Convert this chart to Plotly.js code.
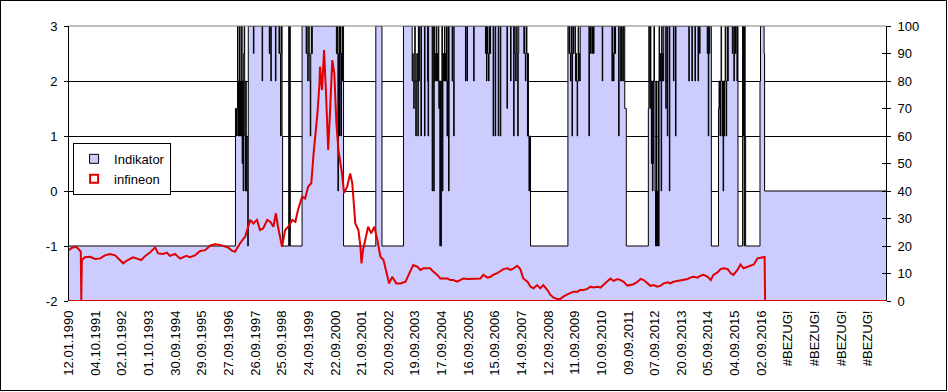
<!DOCTYPE html>
<html>
<head>
<meta charset="utf-8">
<script src="https://cdn.plot.ly/plotly-3.0.1.min.js"></script>
<style>
  html, body { margin: 0; padding: 0; background: #fff; }
  #wrap { position: absolute; left: 0; top: 0; width: 947px; height: 391px; border: 1px solid #000; box-sizing: border-box; background: #fff; }
  #chart { width: 945px; height: 389px; }
</style>
</head>
<body>
<div id="wrap"><div id="chart"></div></div>
<script>
// Category labels (every 52nd week)
const xLabels = ["12.01.1990","04.10.1991","02.10.1992","01.10.1993","30.09.1994","29.09.1995","27.09.1996","26.09.1997","25.09.1998","24.09.1999","22.09.2000","21.09.2001","20.09.2002","19.09.2003","17.09.2004","16.09.2005","15.09.2006","14.09.2007","12.09.2008","11.09.2009","10.09.2010","09.09.2011","07.09.2012","20.09.2013","05.09.2014","04.09.2015","02.09.2016","#BEZUG!","#BEZUG!","#BEZUG!","#BEZUG!"];
const labelStep = 52;
const nCategories = 1595;

// Indikator (left axis), step changes: week index -> value
const indX = [0,325,327,328,329,330,331,332,333,334,335,336,337,338,339,340,341,342,343,344,345,346,347,348,349,350,
360,361,377,378,391,392,393,394,395,403,404,410,411,412,413,414,415,416,417,429,430,431,432,455,
463,464,465,466,467,468,469,470,471,472,473,474,475,
522,523,524,525,526,527,528,529,530,531,532,533,534,536,599,611,653,
670,671,672,673,674,675,676,677,678,679,680,681,682,683,684,687,688,694,695,700,701,702,
709,710,712,713,714,715,716,717,718,719,720,721,722,723,724,725,726,727,728,
729,730,731,732,733,734,735,736,737,738,739,740,741,742,748,749,750,751,752,
774,775,777,778,790,791,813,814,815,816,817,818,819,820,821,822,823,
828,829,832,833,838,839,842,843,855,856,862,863,
868,869,870,871,872,873,874,875,876,877,878,
888,889,890,891,892,893,894,895,896,897,898,899,901,974,
976,977,978,979,980,981,982,983,984,985,986,
989,990,991,992,993,994,995,996,997,998,
1015,1016,1018,1019,1021,1022,1024,1025,1041,1042,
1060,1061,1062,1063,1064,1065,1066,1067,1073,1074,
1077,1078,1079,1080,1082,1083,1085,1088,
1131,1132,1133,1134,1135,1136,1137,1138,1139,1140,1141,1142,1143,
1144,1145,1146,1147,1148,1149,1150,1151,1152,1153,1154,1155,1156,1157,1158,1159,1160,1161,
1165,1166,1168,1169,1172,1173,1180,1181,1184,1185,
1210,1211,1216,1217,1222,1223,1228,1229,1231,1232,
1246,1247,1248,1249,1250,1251,1254,
1268,1269,1270,1271,1272,1273,1274,1275,1276,1277,1278,1279,1280,1281,1282,1283,1284,1285,1286,1287,
1295,1296,1298,1299,1301,1302,1304,1305,1306,
1315,1316,1317,1318,1319,1320,1321,
1349,1350,1357,1358,1595];
const indY = [-1,1.5,1,1.5,3,1,2,1,3,1,2,1,3,0.5,2,0,2.5,3,1,0,2,0,1,0,-1,3,
2.5,3,2,3,2.5,3,2.5,2,3,2,3,2.5,3,2.5,1,2.5,3,1,-1,3,-1,3,-1,3,
2.5,3,2.5,2,2.5,3,2.5,2,1,2.5,3,2.5,3,
2.5,3,2.5,0,2.5,3,1,2.5,3,1,2.5,2,3,-1,3,-1,3,
2,2.5,2,1.5,2,3,2,1,2,2.5,2,1,3,2,3,1,3,1,3,2,1,3,
0,3,0,3,2,2.5,2,3,2,2.5,2,3,1.5,2,-1,2,-1,2,3,
0,2,2.5,2,3,2,2.5,2,3,1,2,3,0,3,2,3,2,1,3,
2,3,2,3,2,3,2.5,3,2,2.5,3,2.5,2,2.5,3,2.5,3,
1,3,1,3,1,3,1,3,1.5,3,2,3,
1,2.5,3,2.5,2,2.5,3,2.5,1,2.5,3,
2.5,3,2.5,2,2.5,3,2.5,1,2.5,1,0,1,-1,3,
2.5,3,2.5,2,2.5,3,1,2.5,3,2.5,3,
2,2.5,2,1,2,3,2,2.5,2,3,
1,3,2.5,3,2.5,3,2.5,3,2,3,
2,3,2.5,2,2.5,3,2.5,3,1,3,
2,3,2,3,2,3,1.5,-1,
1.5,3,2,1.5,3,2,0.5,2,0,0.5,2,3,2,
0,-1,2,-1,0,-1,2,-1,3,2,2.5,2,0,3,2,2.5,2,3,
1.5,3,1,3,0,3,2,3,1,3,
2,3,2,3,2,3,2,3,2.5,3,
2.5,3,1,3,2.5,3,-1,
1.5,2,1.5,1,2,3,2,1,2,0,2,1,2,3,2,1,2,3,2,3,
2.5,3,2,3,2.5,3,2,3,-1,
3,1,3,-1,3,1,-1,
2,3,2.5,0,0];

// infineon (right axis): week index -> value
const infX = [0,6,14,21,23,24,25,31,41,51,61,70,80,90,100,106,113,125,133,141,149,158,168,174,184,191,197,207,217,229,236,246,256,266,276,285,295,305,311,318,324,334,344,354,360,367,373,379,387,393,399,404,408,416,422,428,436,442,447,455,461,467,473,477,481,485,489,490,494,498,502,506,510,514,518,522,526,530,533,537,543,549,553,559,565,569,571,574,580,584,590,596,602,608,614,619,625,631,639,647,657,666,672,680,686,692,700,705,711,719,725,731,739,744,750,758,764,770,778,784,789,797,803,809,817,823,828,836,842,848,856,862,868,875,881,887,895,901,907,914,920,926,934,940,946,954,959,965,973,979,985,993,998,1004,1012,1018,1024,1032,1038,1043,1051,1057,1063,1071,1077,1083,1090,1096,1102,1110,1116,1122,1129,1135,1141,1149,1155,1161,1169,1174,1180,1188,1194,1200,1208,1213,1219,1227,1233,1239,1247,1253,1258,1266,1272,1278,1286,1292,1297,1305,1311,1317,1325,1331,1337,1344,1350,1356,1358,1359,1595];
const infY = [18.5,19.4,19.7,18.3,18.0,0,14.9,15.9,16.1,15.3,15.5,16.6,17.1,16.6,14.9,13.7,14.7,15.9,15.4,14.9,16.4,17.6,19.5,17.3,17.1,17.6,16.4,17.1,15.4,16.4,15.9,16.6,18.2,18.5,20.2,20.6,20.4,19.7,19.4,18.3,17.9,21.0,23.4,29.5,28.2,29.5,25.8,26.4,29.5,28.8,27.0,31.9,27.0,19.7,25.8,27.0,29.5,28.8,33.1,37.9,37.3,41.6,42.8,52.5,59.7,68.2,79.2,85.2,76.7,91.3,74.3,54.9,70.6,87.6,82.8,64.6,54.9,50.1,46.4,39.2,41.6,46.4,42.8,28.2,25.8,19.7,13.7,18.5,23.4,27.0,24.6,27.0,22.2,16.1,14.9,11.3,6.4,8.8,6.4,6.4,7.0,10.7,13.1,12.5,11.3,11.9,11.9,11.9,10.7,9.5,8.2,8.2,8.2,7.6,7.6,7.0,7.6,8.2,8.0,8.0,8.0,8.0,8.2,9.5,8.5,8.8,9.5,10.1,10.7,11.6,11.9,11.3,11.9,12.8,11.6,8.2,7.0,5.2,4.6,5.8,4.6,5.8,4.0,2.2,1.2,0.7,0.7,1.6,2.4,2.8,3.4,3.4,4.0,4.0,4.4,5.2,4.9,5.2,4.9,5.8,7.0,8.2,7.3,8.0,7.6,7.0,5.6,5.8,6.1,7.0,8.0,7.6,6.4,5.5,5.8,5.2,5.6,6.4,6.8,6.4,7.0,7.3,7.6,7.6,8.0,8.5,8.8,8.5,9.2,9.5,8.8,7.6,9.5,10.4,11.6,11.9,11.6,10.1,9.5,11.3,13.3,11.9,12.5,12.8,13.3,15.5,15.8,16.1,16.0,0,0];

const leftTicks = [-2,-1,0,1,2,3];
const leftTickText = ["-2","-1","0","1","2","3"];

const tickVals = xLabels.map((_, i) => i * labelStep);
const FONT = "Arial, 'Liberation Sans', sans-serif";
const RED = "#E00000";

const traces = [
  { x: [0, nCategories], y: [-2, -2], type: "scatter", mode: "lines", line: { width: 0 }, hoverinfo: "skip", showlegend: false, yaxis: "y" },
  { x: indX, y: indY, type: "scatter", mode: "lines", line: { color: "#000", width: 1, shape: "hv" }, fill: "tonexty", fillcolor: "#CCCCFF", showlegend: false, name: "Indikator", yaxis: "y" },
  { x: [0, nCategories], y: [0, 0], type: "scatter", mode: "lines", line: { color: RED, width: 2 }, showlegend: false, yaxis: "y2", cliponaxis: false },
  { x: infX, y: infY, type: "scatter", mode: "lines", line: { color: RED, width: 2 }, showlegend: false, name: "infineon", yaxis: "y2", cliponaxis: false },
  { x: [null], y: [null], type: "scatter", mode: "markers", name: "Indikator", marker: { symbol: "square", size: 9, color: "#CCCCFF", line: { color: "#000", width: 1 } }, yaxis: "y" },
  { x: [null], y: [null], type: "scatter", mode: "markers", name: "infineon", marker: { symbol: "square", size: 8, color: "#fff", line: { color: RED, width: 2 } }, yaxis: "y" },
  { x: [null], y: [null], type: "scatter", mode: "lines", yaxis: "y3", showlegend: false, hoverinfo: "skip" }
];

const layout = {
  width: 945, height: 389,
  margin: { l: 68, r: 60, t: 25, b: 89, pad: 0 },
  paper_bgcolor: "#fff", plot_bgcolor: "#fff",
  font: { family: FONT, size: 13, color: "#000" },
  showlegend: true,
  legend: { x: 0.005, y: 0.575, xanchor: "left", yanchor: "top", traceorder: "normal", bgcolor: "#fff", bordercolor: "#000", borderwidth: 1, font: { family: FONT, size: 13, color: "#000" }, tracegroupgap: 0, itemwidth: 30 },
  xaxis: {
    range: [0, nCategories], tickmode: "array", tickvals: tickVals, ticktext: xLabels,
    tickangle: -90, ticks: "", showgrid: false, zeroline: false, showline: false,
    ticklabelstandoff: 6, tickfont: { family: FONT, size: 13, color: "#000" }
  },
  yaxis: {
    range: [-2, 3], tickmode: "array", tickvals: leftTicks, ticktext: leftTickText,
    ticks: "outside", ticklen: 4, tickcolor: "#000", showline: true, linecolor: "#000", linewidth: 1,
    showgrid: true, gridcolor: "#000", gridwidth: 1, zeroline: false,
    ticklabelstandoff: 4, tickfont: { family: FONT, size: 13, color: "#000" }
  },
  yaxis2: {
    range: [0, 100], dtick: 10, overlaying: "y", side: "right",
    ticks: "outside", ticklen: 4, tickcolor: "#000", showline: true, linecolor: "#000", linewidth: 1,
    showgrid: false, zeroline: false, ticklabelstandoff: 4, tickfont: { family: FONT, size: 13, color: "#000" }
  },
  yaxis3: {
    range: [0, 100], dtick: 10, overlaying: "y", side: "right", anchor: "x",
    ticks: "inside", ticklen: 4, tickcolor: "#000", showline: false, showgrid: false, zeroline: false, showticklabels: false
  },
  shapes: [
    { type: "line", xref: "paper", yref: "paper", x0: 0, x1: 1, y0: 1, y1: 1, line: { color: "#808080", width: 1 }, layer: "above" }
  ]
};

Plotly.newPlot("chart", traces, layout, { displayModeBar: false, staticPlot: true });
</script>
</body>
</html>
